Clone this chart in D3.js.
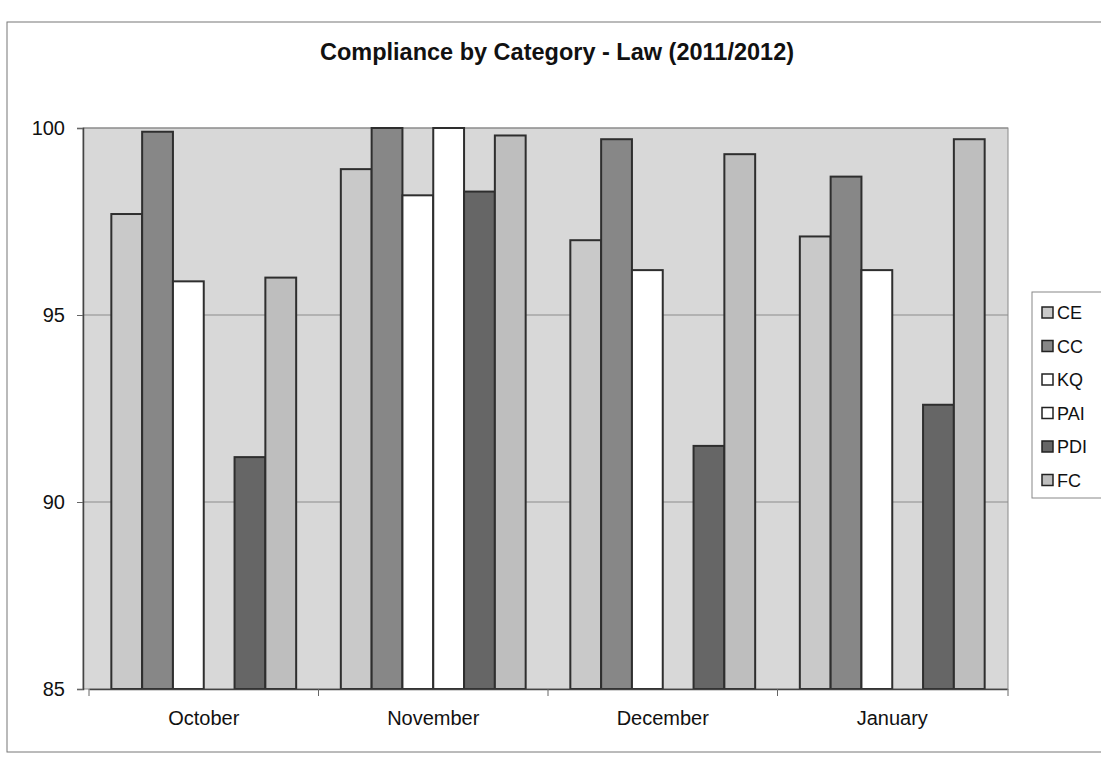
<!doctype html>
<html>
<head>
<meta charset="utf-8">
<title>Compliance by Category - Law (2011/2012)</title>
<script src="https://d3js.org/d3.v7.min.js"></script>
<style>
  body { margin: 0; background: #fff; }
  text { font-family: Arial, "Liberation Sans", sans-serif; fill: #111; }
</style>
</head>
<body>
<script>
// data
var months = ["October", "November", "December", "January"];
var series = ["CE", "CC", "KQ", "PAI", "PDI", "FC"];
var CE  = [97.7, 98.9, 97.0, 97.1];
var CC  = [99.9, 100.0, 99.7, 98.7];
var KQ  = [95.9, 98.2, 96.2, 96.2];
var PAI = [null, 100.0, null, null];
var PDI = [91.2, 98.3, 91.5, 92.6];
var FC  = [96.0, 99.8, 99.3, 99.7];
var yTicks = [85, 90, 95, 100];

var values = { CE: CE, CC: CC, KQ: KQ, PAI: PAI, PDI: PDI, FC: FC };
var fills = { CE: "#c9c9c9", CC: "#878787", KQ: "#ffffff", PAI: "#ffffff", PDI: "#666666", FC: "#bebebe" };

var W = 1101, H = 759;
var plot = { left: 83, right: 1008, top: 128, bottom: 689 };

var svg = d3.select("body").append("svg")
    .attr("width", W)
    .attr("height", H);

// outer chart frame
svg.append("rect")
    .attr("x", 7).attr("y", 22)
    .attr("width", W + 10).attr("height", 730)
    .attr("fill", "#fff")
    .attr("stroke", "#777")
    .attr("stroke-width", 1);

svg.append("text")
    .attr("x", 557).attr("y", 60)
    .attr("text-anchor", "middle")
    .attr("font-size", 23.5)
    .attr("font-weight", "bold")
    .text("Compliance by Category - Law (2011/2012)");

var y = d3.scaleLinear().domain([85, 100]).range([plot.bottom, plot.top]);
var x0 = d3.scaleBand().domain(months).range([plot.left + 6, plot.right - 1]).padding(0);
var bw = x0.bandwidth();
var barW = bw / 7.45;
var x1 = d3.scaleBand().domain(series)
    .range([(bw - 6 * barW) / 2, bw - (bw - 6 * barW) / 2]).padding(0);

// plot background
svg.append("rect")
    .attr("x", plot.left).attr("y", plot.top)
    .attr("width", plot.right - plot.left)
    .attr("height", plot.bottom - plot.top)
    .attr("fill", "#d8d8d8")
    .attr("stroke", "#8a8a8a")
    .attr("stroke-width", 1);

// gridlines
svg.append("g").selectAll("line")
    .data(yTicks.filter(function(d) { return d > 85; }))
    .enter().append("line")
    .attr("x1", plot.left).attr("x2", plot.right)
    .attr("y1", function(d) { return y(d); })
    .attr("y2", function(d) { return y(d); })
    .attr("stroke", "#8c8c8c")
    .attr("stroke-width", 1);

// bars
var rows = [];
months.forEach(function(m, i) {
    series.forEach(function(s) {
        if (values[s][i] != null) rows.push({ month: m, key: s, value: values[s][i] });
    });
});

svg.append("g").selectAll("rect")
    .data(rows)
    .enter().append("rect")
    .attr("x", function(d) { return x0(d.month) + x1(d.key); })
    .attr("y", function(d) { return y(d.value); })
    .attr("width", x1.bandwidth())
    .attr("height", function(d) { return y(85) - y(d.value); })
    .attr("fill", function(d) { return fills[d.key]; })
    .attr("stroke", "#2e2e2e")
    .attr("stroke-width", 2);

// y axis
var yAxis = d3.axisLeft(y).tickValues(yTicks).tickSize(6).tickPadding(12);
var gy = svg.append("g")
    .attr("transform", "translate(" + plot.left + ",0)")
    .call(yAxis);
gy.select(".domain").attr("stroke", "#444").attr("stroke-width", 1.5);
gy.selectAll(".tick line").attr("stroke", "#666");
gy.selectAll(".tick text")
    .attr("font-size", 20)
    .attr("font-family", "Arial, 'Liberation Sans', sans-serif")
    .attr("fill", "#111");

// x axis
var xAxis = d3.axisBottom(x0).tickSize(0).tickPadding(22);
var gx = svg.append("g")
    .attr("transform", "translate(0," + plot.bottom + ")")
    .call(xAxis);
gx.select(".domain").attr("stroke", "#444").attr("stroke-width", 1.5);
gx.selectAll(".tick text")
    .attr("font-size", 20)
    .attr("font-family", "Arial, 'Liberation Sans', sans-serif")
    .attr("fill", "#111");

// category separators below the axis
svg.append("g").selectAll("line")
    .data(months.map(function(m) { return x0(m); }).concat([plot.right]))
    .enter().append("line")
    .attr("x1", function(d) { return d; }).attr("x2", function(d) { return d; })
    .attr("y1", plot.bottom).attr("y2", plot.bottom + 7)
    .attr("stroke", "#666");

// legend
var lg = svg.append("g").attr("transform", "translate(1032,292)");
lg.append("rect")
    .attr("x", 0).attr("y", 0)
    .attr("width", 80).attr("height", 206)
    .attr("fill", "#fff")
    .attr("stroke", "#888");

var item = lg.selectAll(".item")
    .data(series)
    .enter().append("g")
    .attr("class", "item")
    .attr("transform", function(d, i) { return "translate(10," + (21 + i * 33.5) + ")"; });

item.append("rect")
    .attr("x", 0).attr("y", -6)
    .attr("width", 11).attr("height", 11)
    .attr("fill", function(d) { return fills[d]; })
    .attr("stroke", "#222")
    .attr("stroke-width", 1.5);

item.append("text")
    .attr("x", 15).attr("y", 6)
    .attr("font-size", 18)
    .text(function(d) { return d; });
</script>
</body>
</html>
